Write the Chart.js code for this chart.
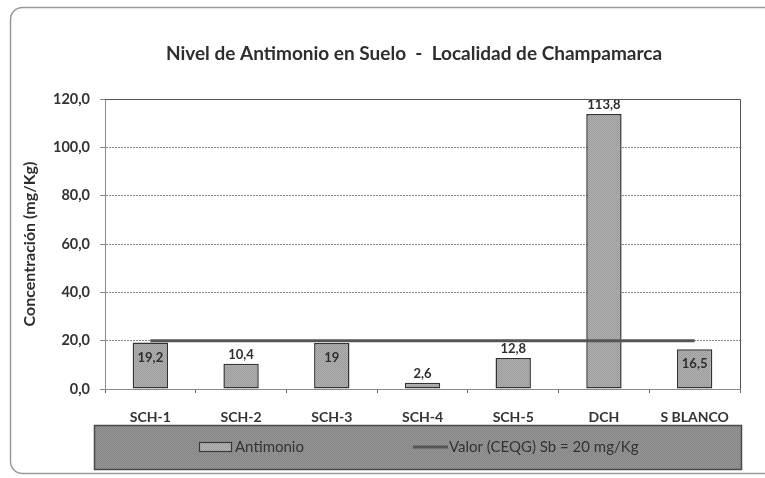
<!DOCTYPE html>
<html>
<head>
<meta charset="utf-8">
<script src="https://cdn.jsdelivr.net/npm/chart.js@4.4.1/dist/chart.umd.min.js"></script>
<style>
  html, body { margin: 0; padding: 0; background: #ffffff; }
  #wrap { width: 765px; height: 478px; position: relative; }
</style>
</head>
<body>
<div id="wrap"><canvas id="c" width="765" height="478"></canvas></div>
<script>
// ---- data ----
const categories = ['SCH-1', 'SCH-2', 'SCH-3', 'SCH-4', 'SCH-5', 'DCH', 'S BLANCO'];
const antimonio = [19.2, 10.4, 19, 2.6, 12.8, 113.8, 16.5];
const limite = [20, 20, 20, 20, 20, 20, 20];
const yTicks = [0, 20, 40, 60, 80, 100, 120];
const seriesNames = ['Antimonio', 'Valor (CEQG) Sb = 20 mg/Kg'];
const chartTitle = 'Nivel de Antimonio en Suelo  -  Localidad de Champamarca';
const yTitle = 'Concentración (mg/Kg)';
// label placement (style): inside bar top for these
const labelInside = [true, false, true, false, false, false, true];

const FONT = 'Lato';
const TXT = '#333333';

function makePattern(c1, c2) {
  const p = document.createElement('canvas');
  p.width = 2; p.height = 2;
  const g = p.getContext('2d');
  g.fillStyle = c1; g.fillRect(0, 0, 2, 2);
  g.fillStyle = c2; g.fillRect(0, 0, 1, 1); g.fillRect(1, 1, 1, 1);
  return g.createPattern(p, 'repeat');
}
const ctx = document.getElementById('c').getContext('2d');
const barFill = makePattern('#b2b2b2', '#9a9a9a');
const legendFill = makePattern('#979797', '#848484');
const legendMarkFill = makePattern('#b4b4b4', '#a0a0a0');

const fmt = v => String(v).replace('.', ',');

const framePlugin = {
  id: 'frame',
  beforeDraw(chart) {
    const c = chart.ctx;
    c.save();
    c.fillStyle = '#ffffff';
    c.fillRect(0, 0, chart.width, chart.height);
    c.strokeStyle = '#9a9a9a';
    c.lineWidth = 1.5;
    c.beginPath();
    c.roundRect(10.5, 7.5, chart.width + 20, 466, 12);
    c.stroke();
    // title
    c.fillStyle = '#2e2e2e';
    c.font = 'bold 19px ' + FONT;
    c.textAlign = 'center';
    c.textBaseline = 'middle';
    c.fillText(chartTitle, 414, 54);
    c.restore();
  },
  afterDraw(chart) {
    const c = chart.ctx;
    const a = chart.chartArea;
    c.save();
    // plot border top/right solid
    c.strokeStyle = '#555555';
    c.lineWidth = 1;
    c.beginPath();
    c.moveTo(a.left, a.top + 0.5);
    c.lineTo(a.right + 0.5, a.top + 0.5);
    c.lineTo(a.right + 0.5, a.bottom);
    c.stroke();

    // legend box
    const lx = a.left - 11, ly = 425, lw = a.right + 1 - lx, lh = 44;
    c.fillStyle = legendFill;
    c.fillRect(lx, ly, lw, lh);
    c.strokeStyle = '#4a4a4a';
    c.lineWidth = 1.5;
    c.strokeRect(lx + 0.5, ly + 0.5, lw, lh);
    const cy = ly + 22;
    // item 1: bar box
    const ds0 = chart.data.datasets[0];
    c.fillStyle = legendMarkFill;
    c.fillRect(199, cy - 5, 32, 9);
    c.strokeStyle = '#3a3a3a';
    c.lineWidth = 1.2;
    c.strokeRect(199.5, cy - 4.5, 32, 9);
    c.fillStyle = '#333333';
    c.font = '15px ' + FONT;
    c.textAlign = 'left';
    c.textBaseline = 'middle';
    c.fillText(ds0.label, 235, cy);
    // item 2: line
    const ds1 = chart.data.datasets[1];
    c.strokeStyle = ds1.borderColor;
    c.lineWidth = 3;
    c.beginPath();
    c.moveTo(413, cy); c.lineTo(448, cy);
    c.stroke();
    c.fillText(ds1.label, 449, cy);
    c.restore();
  },
  afterDatasetsDraw(chart) {
    const c = chart.ctx;
    const meta = chart.getDatasetMeta(0);
    c.save();
    c.fillStyle = '#2e2e2e';
    c.font = 'bold 13px ' + FONT;
    c.textAlign = 'center';
    c.textBaseline = 'middle';
    meta.data.forEach((el, i) => {
      const v = chart.data.datasets[0].data[i];
      const y = labelInside[i] ? el.y + 15 : el.y - 9;
      c.fillText(fmt(v), el.x, y);
    });
    c.restore();
  }
};

new Chart(ctx, {
  data: {
    labels: categories,
    datasets: [
      {
        type: 'bar',
        label: seriesNames[0],
        data: antimonio,
        backgroundColor: barFill,
        borderColor: '#333333',
        borderWidth: 1.5,
        borderSkipped: false,
        categoryPercentage: 1,
        barPercentage: 0.39,
        order: 2
      },
      {
        type: 'line',
        label: seriesNames[1],
        data: limite,
        borderColor: '#555555',
        borderWidth: 3,
        pointRadius: 0,
        fill: false,
        order: 1
      }
    ]
  },
  options: {
    responsive: false,
    animation: false,
    layout: { padding: { left: 0, top: 99, right: 25, bottom: 0 } },
    plugins: {
      legend: { display: false },
      title: { display: false },
      tooltip: { enabled: false }
    },
    scales: {
      x: {
        offset: true,
        grid: { drawOnChartArea: false, drawTicks: true, tickLength: 4, color: '#666666', offset: true },
        border: { display: true, color: '#8a8a8a', width: 1, dash: [2, 1] },
        ticks: { color: TXT, font: { family: FONT, size: 14, weight: 'bold' }, padding: 16, maxRotation: 0, autoSkip: false },
        afterFit(s) { s.height = 89; }
      },
      y: {
        min: 0, max: 120,
        afterBuildTicks(s) { s.ticks = yTicks.map(v => ({ value: v })); },
        grid: { color: '#8a8a8a', lineWidth: 1, tickLength: 5, drawTicks: true },
        border: { display: true, color: '#8a8a8a', width: 1, dash: [2, 1] },
        ticks: {
          color: TXT, font: { family: FONT, size: 14.5, weight: 'bold' }, padding: 10,
          callback: v => v.toFixed(1).replace('.', ',')
        },
        title: {
          display: true, text: yTitle, color: '#2e2e2e',
          font: { family: FONT, size: 16, weight: 'bold' },
          padding: { top: 20, bottom: 0 }
        },
        afterFit(s) { s.width = 105; }
      }
    }
  },
  plugins: [framePlugin]
});
</script>
</body>
</html>
